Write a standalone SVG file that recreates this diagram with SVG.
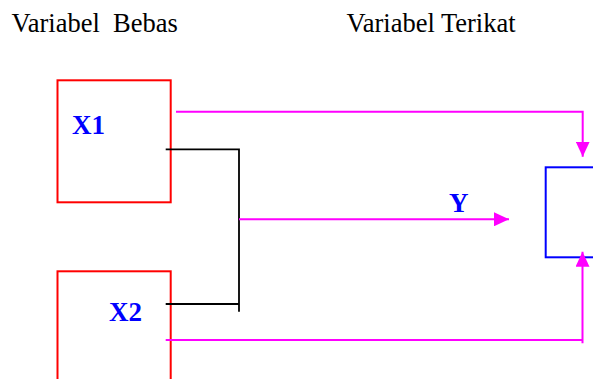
<svg xmlns="http://www.w3.org/2000/svg" width="593" height="379" viewBox="0 0 593 379">
<style>
.hdr{font-family:"Liberation Serif","Times New Roman",serif;font-size:26.5px;fill:#000;white-space:pre}
.lbl{font-family:"Liberation Serif","Times New Roman",serif;font-size:27px;font-weight:bold;fill:#0000ff}
.rbox{fill:none;stroke:#ff0000;stroke-width:2}
.bbox{fill:none;stroke:#0000ff;stroke-width:2}
.mag{fill:none;stroke:#ff00ff;stroke-width:2}
.blk{fill:none;stroke:#000;stroke-width:1.8}
</style>
<defs>
<marker id="ah" markerUnits="userSpaceOnUse" markerWidth="15" markerHeight="14" refX="15" refY="7" orient="auto">
<path d="M0,0 L15,7 L0,14 z" fill="#ff00ff"/>
</marker>
</defs>
<text class="hdr" x="11.5" y="31.5" xml:space="preserve">Variabel  Bebas</text>
<text class="hdr" x="346.5" y="31.5">Variabel Terikat</text>
<g id="x1">
<rect class="rbox" x="57.5" y="80.3" width="113.2" height="122"/>
<text class="lbl" x="72" y="134">X1</text>
</g>
<g id="x2">
<rect class="rbox" x="57.5" y="271.3" width="113.2" height="120"/>
<text class="lbl" x="109" y="321">X2</text>
</g>
<g id="y">
<rect class="bbox" x="545.7" y="167.3" width="60" height="90"/>
</g>
<g id="connectors">
<path class="mag" d="M176,111.7 H582.7 V156.7" marker-end="url(#ah)"/>
<path class="mag" d="M165.7,340 H582.5 M582.5,343.3 V251.7" marker-end="url(#ah)"/>
<path class="blk" d="M165.7,149.3 H239 V311.7 M165.7,304 H239"/>
<path class="mag" d="M239,219.3 H509" marker-end="url(#ah)"/>
<text class="lbl" x="449" y="211.7">Y</text>
</g>
</svg>
